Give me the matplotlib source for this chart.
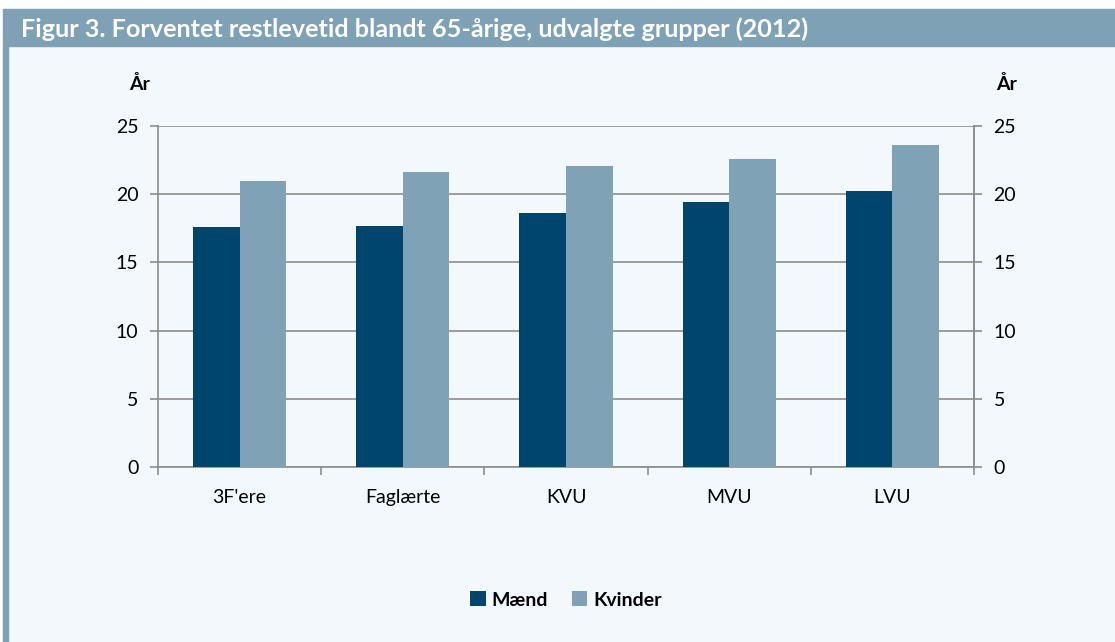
import numpy as np
import matplotlib.pyplot as plt
from matplotlib.patches import Rectangle

plt.rcParams['font.family'] = ['Lato', 'DejaVu Sans']

categories = ["3F'ere", "Faglærte", "KVU", "MVU", "LVU"]
maend = [17.6, 17.7, 18.6, 19.4, 20.2]
kvinder = [21.0, 21.6, 22.1, 22.6, 23.6]
yticks = [0, 5, 10, 15, 20, 25]

DARK = "#00466c"
LIGHT = "#7fa2b7"
BAND = "#7fa1b6"
BG = "#f3f8fc"
GRID = "#8c8c8c"

W, H = 1115, 642
fig = plt.figure(figsize=(W / 100, H / 100), dpi=100)
fig.patch.set_facecolor("white")

# baggrund, venstre kant og titelbånd (pixelkoordinater -> figurbrøk)
fig.patches.append(Rectangle((3 / W, 0), 1 - 3 / W, 1 - 46 / H,
                             transform=fig.transFigure, color=BG, zorder=-3))
fig.patches.append(Rectangle((3 / W, 0), 5 / W, 1 - 46 / H,
                             transform=fig.transFigure, color=BAND, zorder=-2))
fig.patches.append(Rectangle((3 / W, 1 - 46 / H), 1 - 3 / W, 37 / H,
                             transform=fig.transFigure, color=BAND, zorder=-2))
fig.text(21 / W, 1 - 29 / H, "Figur 3. Forventet restlevetid blandt 65-årige, udvalgte grupper (2012)",
         color="white", fontsize=18.2, fontweight="bold", va="center", ha="left")

ax = fig.add_axes([158 / W, 1 - 467 / H, (974 - 158) / W, (467 - 126) / H])
ax.set_facecolor(BG)

x = np.arange(len(categories))
bw = 0.285
ax.bar(x - bw / 2, maend, bw, color=DARK, label="Mænd", zorder=3)
ax.bar(x + bw / 2, kvinder, bw, color=LIGHT, label="Kvinder", zorder=3)

ax.set_xlim(-0.5, len(categories) - 0.5)
ax.set_ylim(0, 25)
ax.set_yticks(yticks)
ax.yaxis.grid(True, color=GRID, lw=1.2, zorder=1)
ax.set_xticks(x)
ax.set_xticklabels(categories, fontsize=14)
ax.set_xticks(np.arange(len(categories) + 1) - 0.5, minor=True)
ax.tick_params(axis="x", which="major", length=0, pad=16)
ax.tick_params(axis="x", which="minor", length=6, color=GRID, width=1.2)
ax.tick_params(axis="y", length=6, color=GRID, width=1.2, labelsize=14, pad=8)

ax.spines["top"].set_visible(False)
for side in ["left", "right", "bottom"]:
    ax.spines[side].set_color(GRID)
    ax.spines[side].set_linewidth(1.2)

ax2 = ax.twinx()
ax2.set_ylim(0, 25)
ax2.set_yticks(yticks)
ax2.tick_params(axis="y", length=6, color=GRID, width=1.2, labelsize=14, pad=8)
for side in ["top", "left", "bottom"]:
    ax2.spines[side].set_visible(False)
ax2.spines["right"].set_color(GRID)
ax2.spines["right"].set_linewidth(1.2)

fig.text(140 / W, 1 - 84 / H, "År", fontsize=14, fontweight="bold", ha="center", va="center")
fig.text(1007 / W, 1 - 84 / H, "År", fontsize=14, fontweight="bold", ha="center", va="center")

fig.legend(loc="center", bbox_to_anchor=(566 / W, 1 - 600 / H), ncol=2, frameon=False,
           prop={"weight": "bold", "size": 14}, handlelength=0.8, handleheight=0.8,
           handletextpad=0.3, columnspacing=1.2)

fig.savefig("out.png", dpi=100, facecolor=fig.get_facecolor())
